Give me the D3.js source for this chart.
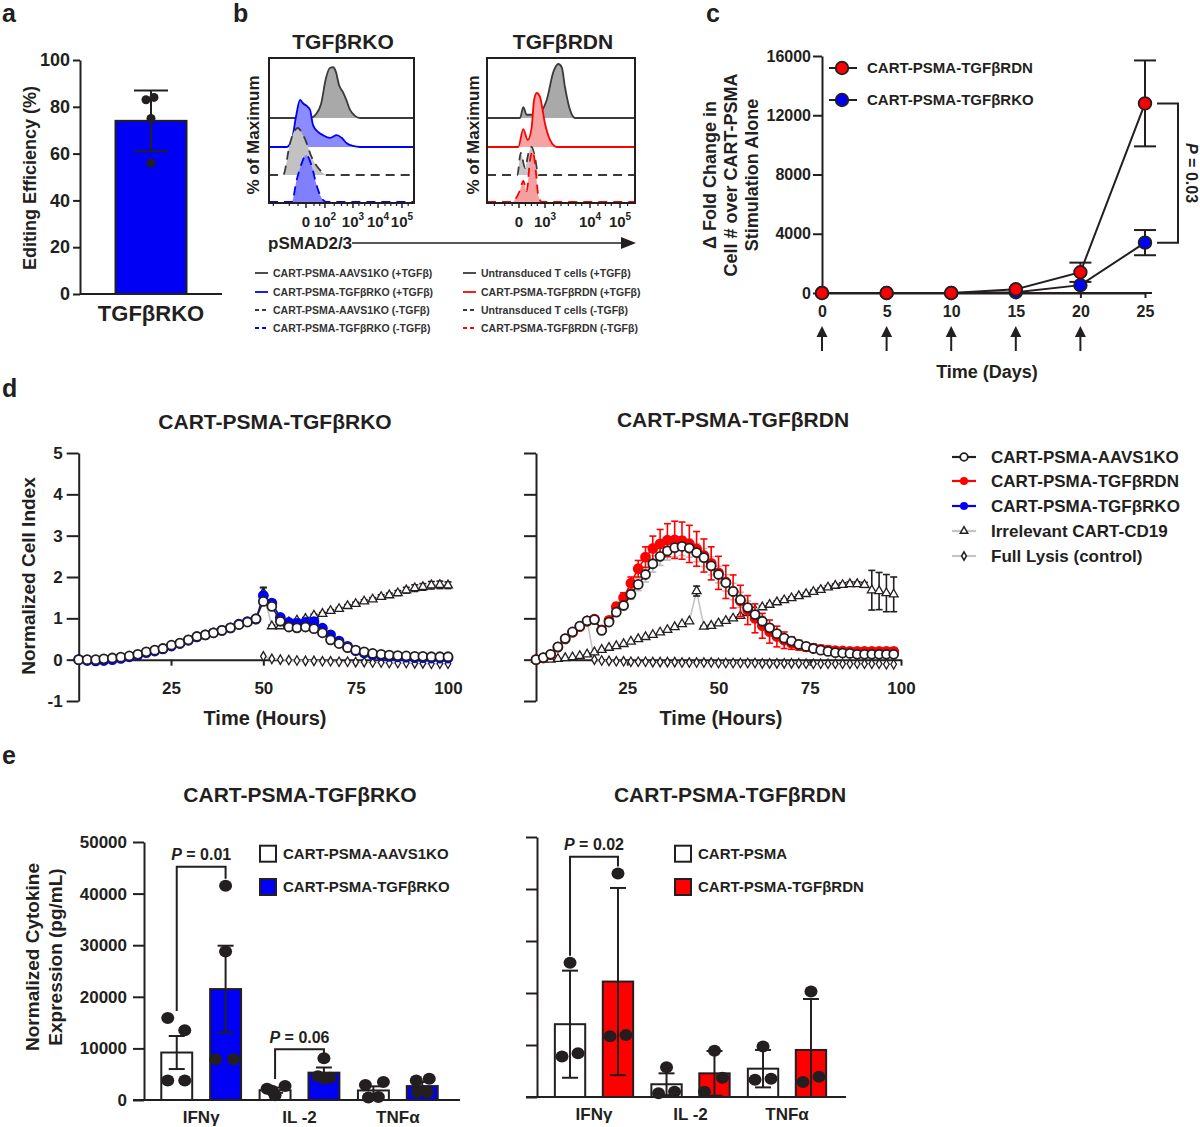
<!DOCTYPE html>
<html>
<head>
<meta charset="utf-8">
<script src="https://cdn.jsdelivr.net/npm/d3@7"></script>
<style>
  body { margin: 0; background: #fff; }
  svg { font-family: "Liberation Sans", Arial, Helvetica, sans-serif; }
  svg text { font-weight: bold; }
</style>
</head>
<body>
<svg id="fig" width="1200" height="1127"></svg>
<script>
// ---- panel a: editing efficiency
const editCats = ["TGFβRKO"];
const editMean = [74];
const editSD = [13];
const editPoints = [83, 84, 75, 56];
const editTicks = [0, 20, 40, 60, 80, 100];

// ---- panel b: histograms, [channel position 0-100, % of max]
const koAavsPlus = [[0,0],[28.3,0],[32.4,7],[35.9,26],[39.3,74],[42.1,93],[44.1,94],[46.2,85],[48.3,61],[51,48],[53.1,35],[55.9,15],[59.3,4],[62.8,0],[100,0]];
const koRkoPlus = [[0,0],[12.2,0],[15.9,15],[18.6,56],[21.4,87],[23.4,81],[26,76],[28.3,69],[30.3,41],[33.8,28],[37.2,22],[42.1,17],[46.7,22],[50.1,17],[53.6,7],[57.9,2],[62.8,0],[100,0]];
const koAavsMinus = [[0,0],[9.7,0],[14.5,59],[17.2,80],[20,87],[23.4,74],[24.8,67],[29.4,33],[35.2,9],[40,0],[100,0]];
const koRkoMinus = [[0,0],[15.7,0],[19.1,41],[22.6,72],[25.5,87],[29.4,67],[32.9,30],[37.2,4],[40,0],[100,0]];
const dnUntPlus = [[0,0],[22.3,0],[24.5,20],[26.8,6],[33.6,6],[40.3,33],[44.8,85],[48.2,100],[50.5,94],[52.7,57],[56.1,15],[59.5,0],[100,0]];
const dnRdnPlus = [[0,0],[21.1,0],[24.5,33],[27.5,13],[30.2,37],[31.8,87],[33.6,100],[35.8,93],[39.2,43],[42.6,13],[47.1,0],[100,0]];
const dnUntMinus = [[0,0],[20.5,0],[22.8,41],[25.7,13],[28,40],[30.2,52],[32.4,33],[34.7,0],[100,0]];
const dnRdnMinus = [[0,0],[16.7,0],[22.3,22],[24.5,39],[26.8,20],[29.1,78],[30.9,94],[33.1,54],[34.7,11],[37,0],[100,0]];
const koTickPos = [25.5, 38.6, 57.9, 75.2, 91.7];
const koTickExp = [null, 2, 3, 4, 5];
const dnTickPos = [21.6, 39.2, 69.6, 89.9];
const dnTickExp = [null, 3, 4, 5];
const koMinorTicks = [3, 14, 20, 31, 35, 45, 50, 54, 62, 66, 70, 80, 84, 88, 96];
const dnMinorTicks = [5, 12, 17, 26, 30, 34, 45, 50, 55, 60, 64, 75, 80, 84, 95];
const bLegendLeft = ["CART-PSMA-AAVS1KO (+TGFβ)", "CART-PSMA-TGFβRKO (+TGFβ)", "CART-PSMA-AAVS1KO (-TGFβ)", "CART-PSMA-TGFβRKO (-TGFβ)"];
const bLegendRight = ["Untransduced T cells (+TGFβ)", "CART-PSMA-TGFβRDN (+TGFβ)", "Untransduced T cells (-TGFβ)", "CART-PSMA-TGFβRDN (-TGFβ)"];

// ---- panel c: expansion
const days = [0, 5, 10, 15, 20, 25];
const stimDays = [0, 5, 10, 15, 20];
const rdnFold = [0, 0, 0, 250, 1400, 12800];
const rdnFoldErr = [0, 0, 0, 0, 650, 2900];
const rkoFold = [0, 0, 0, 50, 530, 3400];
const rkoFoldErr = [0, 0, 0, 0, 0, 850];
const foldTicks = [0, 4000, 8000, 12000, 16000];

// ---- panel d: impedance killing
const hoursL = [0,2.3,4.6,6.8,9.1,11.4,13.7,16,18.3,20.6,22.8,25.1,27.4,29.7,32,34.3,36.5,38.8,41.1,43.4,45.7,48,
  50,52.3,54.6,56.9,59.1,61.4,63.7,66,68.2,70.5,72.8,75,77.3,79.6,81.9,84.1,86.4,88.7,91,93.2,95.5,97.8,100];
const aavsL = [0,0,0,0.02,0.04,0.06,0.09,0.13,0.19,0.23,0.27,0.35,0.4,0.48,0.56,0.6,0.65,0.71,0.77,0.85,0.91,0.99,
  1.41,1.29,0.93,0.79,0.77,0.79,0.75,0.65,0.48,0.39,0.29,0.23,0.19,0.15,0.13,0.11,0.1,0.09,0.08,0.08,0.07,0.07,0.07];
const rkoL = [0,-0.02,-0.03,-0.02,0,0.03,0.07,0.11,0.17,0.21,0.26,0.33,0.39,0.47,0.55,0.6,0.65,0.71,0.77,0.86,0.92,0.98,
  1.55,1.37,1.02,0.9,0.88,0.9,0.92,0.76,0.6,0.45,0.32,0.22,0.16,0.12,0.1,0.08,0.07,0.06,0.05,0.05,0.04,0.04,0.04];
const rkoErrL = [0,0,0,0,0,0,0,0,0,0,0,0,0,0,0,0,0,0,0,0,0,0,
  0.2,0.03,0.03,0.03,0.03,0.03,0.03,0.03,0.03,0.03,0.02,0.02,0.02,0.02,0.02,0.02,0.02,0.02,0.02,0.02,0.02,0.02,0.02];
const hoursL2 = [50,52.3,54.6,56.9,59.1,61.4,63.7,66,68.2,70.5,72.8,75,77.3,79.6,81.9,84.1,86.4,88.7,91,93.2,95.5,97.8,100];
const cd19L = [1.62,0.81,0.81,0.91,0.95,0.99,1.07,1.11,1.18,1.23,1.3,1.35,1.41,1.46,1.52,1.56,1.61,1.68,1.73,1.76,1.8,1.81,1.8];
const cd19ErrL = [0.12,0.03,0.03,0.03,0.03,0.03,0.03,0.03,0.03,0.03,0.03,0.04,0.04,0.04,0.05,0.05,0.06,0.07,0.08,0.08,0.09,0.09,0.08];
const lysisL = [0.08,0.02,0,-0.01,-0.02,-0.03,-0.03,-0.04,-0.04,-0.05,-0.05,-0.06,-0.06,-0.07,-0.07,-0.08,-0.08,-0.08,-0.09,-0.09,-0.1,-0.1,-0.1];

const hoursR = [0,2,4,6,8,10,12,14,16,18,20,22,24,26,28,30,32,34,36,38,40,42,44,46,48,
  50,52,54,56,58,60,62,64,66,68,70,72,74,76,78,80,82,84,86,88,90,92,94,96,98];
const aavsR = [0,0.05,0.13,0.31,0.51,0.67,0.81,0.94,0.97,0.71,0.91,1.15,1.31,1.58,1.82,2.06,2.32,2.5,2.63,2.71,2.74,2.7,2.59,2.47,2.27,
  2.06,1.86,1.65,1.45,1.26,1.09,0.93,0.77,0.63,0.52,0.45,0.37,0.32,0.27,0.23,0.2,0.17,0.16,0.15,0.13,0.13,0.13,0.13,0.13,0.13];
const aavsErrR = [0,0,0,0,0,0,0,0,0,0,0.05,0.08,0.1,0.12,0.15,0.18,0.2,0.22,0.22,0.22,0.22,0.22,0.22,0.22,0.22,
  0.2,0.2,0.2,0.18,0.16,0.14,0.12,0.1,0.08,0.06,0.05,0.04,0.04,0.03,0.03,0.03,0.03,0.03,0.03,0.03,0.03,0.03,0.03,0.03,0.03];
const rdnR = [0,0.04,0.12,0.3,0.5,0.66,0.8,0.93,0.98,0.72,0.95,1.28,1.5,1.85,2.2,2.48,2.69,2.8,2.89,2.9,2.88,2.8,2.68,2.52,2.33,
  2.1,1.88,1.65,1.42,1.2,1.0,0.82,0.68,0.56,0.47,0.4,0.35,0.31,0.28,0.25,0.23,0.22,0.21,0.2,0.2,0.2,0.2,0.2,0.2,0.2];
const rdnErrR = [0,0,0,0.02,0.03,0.03,0.03,0.03,0.03,0.03,0.08,0.1,0.12,0.15,0.2,0.25,0.3,0.35,0.4,0.45,0.45,0.45,0.42,0.4,0.4,
  0.4,0.4,0.4,0.38,0.35,0.35,0.3,0.28,0.25,0.2,0.15,0.12,0.1,0.1,0.1,0.1,0.08,0.08,0.08,0.08,0.08,0.08,0.08,0.08,0.08];
const cd19R = [0,0,0,0.02,0.04,0.06,0.09,0.13,0.18,0.24,0.29,0.33,0.38,0.44,0.5,0.55,0.6,0.66,0.72,0.79,0.86,0.93,1.66,0.8,0.82,
  0.88,0.94,1.0,1.06,1.13,1.2,1.27,1.33,1.39,1.44,1.49,1.54,1.59,1.64,1.69,1.75,1.79,1.81,1.83,1.83,1.81,1.68,1.66,1.61,1.58];
const cd19ErrR = [0,0,0,0,0,0,0,0,0,0,0,0,0,0,0,0,0,0,0,0,0,0,0.12,0.02,0.02,
  0.02,0.02,0.02,0.02,0.02,0.03,0.03,0.03,0.03,0.03,0.03,0.03,0.03,0.04,0.04,0.04,0.04,0.05,0.05,0.05,0.06,0.48,0.45,0.45,0.42];
const hoursR2 = [14,16,18,20,22,24,26,28,30,32,34,36,38,40,42,44,46,48,50,52,54,56,58,60,62,64,66,68,70,72,74,76,78,80,82,84,86,88,90,92,94,96,98];
const lysisR = [0.94,0,-0.02,-0.03,-0.04,-0.04,-0.05,-0.05,-0.05,-0.06,-0.06,-0.06,-0.06,-0.07,-0.07,-0.07,-0.07,-0.07,-0.08,-0.08,-0.08,
  -0.08,-0.08,-0.08,-0.09,-0.09,-0.09,-0.09,-0.09,-0.09,-0.1,-0.1,-0.1,-0.1,-0.1,-0.1,-0.1,-0.1,-0.1,-0.1,-0.1,-0.11,-0.11];
const cellIndexTicks = [-1, 0, 1, 2, 3, 4, 5];
const hourTicks = [25, 50, 75, 100];
const dLegend = ["CART-PSMA-AAVS1KO", "CART-PSMA-TGFβRDN", "CART-PSMA-TGFβRKO", "Irrelevant CART-CD19", "Full Lysis (control)"];

// ---- panel e: cytokines
const cytoCats = ["IFNγ", "IL -2", "TNFα"];
const cytoTicks = [0, 10000, 20000, 30000, 40000, 50000];
const koCtrlMean = [9200, 1900, 1850];
const koCtrlErr = [3200, 500, 800];
const koCtrlPts = [[15900, 13500, 3800, 3800], [2200, 900, 2700, 1800], [2900, 3500, 500, 600]];
const koTrtMean = [21500, 5300, 2700];
const koTrtErr = [8400, 1000, 800];
const koTrtPts = [[41500, 28800, 7900, 7900], [8100, 4600, 4300, 4200], [3800, 4100, 1500, 1500]];
const dnCtrlMean = [14000, 2450, 5450];
const dnCtrlErr = [10300, 2100, 3600];
const dnCtrlPts = [[25800, 7800, 8400], [5700, 700, 1000], [9700, 3300, 3500]];
const dnTrtMean = [22200, 4550, 9050];
const dnTrtErr = [18000, 4300, 9800];
const dnTrtPts = [[43000, 11700, 11900], [8900, 3700, 1000], [20300, 2900, 3900]];
const koBrackets = [{ cat: "IFNγ", level: 45200, p: "0.01" }, { cat: "IL -2", level: 9830, p: "0.06" }];
const dnBrackets = [{ cat: "IFNγ", level: 46200, p: "0.02" }];

// ------------------------------------------------------------------
const svg = d3.select("#fig");
const INK = "#231f20";
const BLUE = "#0000f5", RED = "#ff0000", LIGHT = "#c4c4c4";
const plain = d => String(d);   // hyphen minus, no thousands separator

function label(x, y, s, size, o = {}) {
  const t = svg.append("text")
    .attr("x", x).attr("y", y)
    .attr("font-size", size)
    .attr("text-anchor", o.anchor || "middle")
    .attr("dy", o.dy || "0.35em")
    .attr("fill", o.fill || INK)
    .text(s);
  if (o.rotate) t.attr("transform", `rotate(${o.rotate},${x},${y})`);
  return t;
}

function pLabel(x, y, val, size, rotate) {
  const t = svg.append("text").attr("x", x).attr("y", y).attr("font-size", size)
    .attr("text-anchor", "middle").attr("dy", "0.35em").attr("fill", INK);
  t.append("tspan").attr("font-style", "italic").text("P");
  t.append("tspan").text(" = " + val);
  if (rotate) t.attr("transform", `rotate(${rotate},${x},${y})`);
}

function line(g, x1, y1, x2, y2, color, w) {
  return g.append("line").attr("x1", x1).attr("y1", y1).attr("x2", x2).attr("y2", y2)
    .attr("stroke", color || INK).attr("stroke-width", w || 2);
}

function styleAxis(g, size) {
  g.attr("font-family", null).attr("font-size", size);
  g.select(".domain").attr("stroke", INK).attr("stroke-width", 2);
  g.selectAll(".tick line").attr("stroke", INK).attr("stroke-width", 2);
  g.selectAll(".tick text").attr("fill", INK);
}

// panel letters
[["a", 2, 22], ["b", 233, 22], ["c", 706, 22], ["d", 2, 397], ["e", 2, 764]].forEach(([s, x, y]) =>
  label(x, y, s, 25, { anchor: "start", dy: "0" }));

// ================= panel a =================
{
  const xA = d3.scaleBand().domain(editCats).range([80, 222]).paddingInner(0.5).paddingOuter(0.25);
  const yA = d3.scaleLinear().domain([0, 100]).range([294, 60]);
  const g = svg.append("g");
  const cx = xA(editCats[0]) + xA.bandwidth() / 2;
  g.append("rect").attr("x", xA(editCats[0])).attr("y", yA(editMean[0]))
    .attr("width", xA.bandwidth()).attr("height", yA(0) - yA(editMean[0]))
    .attr("fill", BLUE).attr("stroke", INK).attr("stroke-width", 2);
  line(g, cx, yA(editMean[0] - editSD[0]), cx, yA(editMean[0] + editSD[0]));
  [editMean[0] - editSD[0], editMean[0] + editSD[0]].forEach(v => line(g, cx - 17, yA(v), cx + 17, yA(v)));
  const jitter = [-5, 3, 0, 0];
  g.selectAll(".pt").data(editPoints).join("circle")
    .attr("cx", (d, i) => cx + jitter[i]).attr("cy", d => yA(d)).attr("r", 4.5).attr("fill", INK);
  const ax = g.append("g").attr("transform", "translate(80,0)")
    .call(d3.axisLeft(yA).tickValues(editTicks).tickSize(7).tickPadding(3).tickSizeOuter(0));
  styleAxis(ax, 18);
  line(g, 80, 294, 222, 294);
  label(151, 313, "TGFβRKO", 22);
  label(30, 178, "Editing Efficiency (%)", 18, { rotate: -90 });
}

// ================= panel b =================
{
  const boxTop = 58, boxBottom = 203;
  const rowBase = [118, 147, 175, 202];
  const hh = d3.scaleLinear().domain([0, 100]).range([0, 54]);
  const panels = [
    { x0: 269, x1: 414, title: "TGFβRKO", tx: 343, ylx: 253, ticks: koTickPos, exps: koTickExp, minor: koMinorTicks,
      traces: [
        { pts: koAavsPlus, row: 0, stroke: "#3a3a3a", fill: "#a9a9a9", dash: null },
        { pts: koRkoPlus, row: 1, stroke: "#0000ff", fill: "#8c8cff", dash: null },
        { pts: koAavsMinus, row: 2, stroke: "#3a3a3a", fill: "#c2c2c2", dash: "9,6" },
        { pts: koRkoMinus, row: 3, stroke: "#0000ff", fill: "#8080ff", dash: "9,6" }] },
    { x0: 487, x1: 635, title: "TGFβRDN", tx: 563, ylx: 473, ticks: dnTickPos, exps: dnTickExp, minor: dnMinorTicks,
      traces: [
        { pts: dnUntPlus, row: 0, stroke: "#3a3a3a", fill: "#a9a9a9", dash: null },
        { pts: dnRdnPlus, row: 1, stroke: "#ff0000", fill: "#f7a3a3", dash: null },
        { pts: dnUntMinus, row: 2, stroke: "#3a3a3a", fill: "#c6c6c6", dash: "9,6" },
        { pts: dnRdnMinus, row: 3, stroke: "#ff0000", fill: "#f5a0a0", dash: "9,6" }] }
  ];
  panels.forEach(p => {
    const xh = d3.scaleLinear().domain([0, 100]).range([p.x0, p.x1]);
    const g = svg.append("g");
    p.traces.forEach(t => {
      const base = rowBase[t.row];
      g.append("path").datum(t.pts)
        .attr("d", d3.area().x(d => xh(d[0])).y0(base).y1(d => base - hh(d[1])).curve(d3.curveMonotoneX))
        .attr("fill", t.fill);
      g.append("path").datum(t.pts)
        .attr("d", d3.line().x(d => xh(d[0])).y(d => base - hh(d[1])).curve(d3.curveMonotoneX))
        .attr("fill", "none").attr("stroke", t.stroke).attr("stroke-width", 1.8)
        .attr("stroke-dasharray", t.dash);
    });
    g.append("rect").attr("x", p.x0).attr("y", boxTop).attr("width", p.x1 - p.x0).attr("height", boxBottom - boxTop)
      .attr("fill", "none").attr("stroke", INK).attr("stroke-width", 2);
    p.minor.forEach(u => line(g, xh(u), boxBottom, xh(u), boxBottom + 3, INK, 1.2));
    p.ticks.forEach((u, i) => {
      line(g, xh(u), boxBottom, xh(u), boxBottom + 5, INK, 1.5);
      const t = svg.append("text").attr("x", xh(u)).attr("y", 222).attr("dy", "0.35em")
        .attr("font-size", 15).attr("text-anchor", "middle").attr("fill", INK);
      if (p.exps[i] === null) t.text("0");
      else {
        t.append("tspan").text("10");
        t.append("tspan").attr("font-size", 10).attr("dy", "-0.7em").text(p.exps[i]);
      }
    });
    label(p.tx, 42, p.title, 21);
    label(p.ylx, 135, "% of Maximum", 17, { rotate: -90 });
  });
  // channel label with arrow
  label(268, 243, "pSMAD2/3", 17, { anchor: "start" });
  line(svg, 352, 243, 624, 243, INK, 1.6);
  svg.append("path").attr("d", "M621,237 L636,243 L621,249 Z").attr("fill", INK);
  // legend
  const rows = [273, 292, 310, 328];
  const legStyles = [
    [{ c: "#3a3a3a", d: null }, { c: "#0000ff", d: null }, { c: "#3a3a3a", d: "4,3" }, { c: "#0000ff", d: "4,3" }],
    [{ c: "#3a3a3a", d: null }, { c: "#ff0000", d: null }, { c: "#3a3a3a", d: "4,3" }, { c: "#ff0000", d: "4,3" }]];
  [[bLegendLeft, 255, 273], [bLegendRight, 463, 481]].forEach(([labels, lx, tx], col) => {
    labels.forEach((s, i) => {
      line(svg, lx, rows[i], lx + 13, rows[i], legStyles[col][i].c, 1.8).attr("stroke-dasharray", legStyles[col][i].d);
      label(tx, rows[i], s, 10.5, { anchor: "start", fill: "#333" });
    });
  });
}

// ================= panel c =================
{
  const xC = d3.scaleLinear().domain([0, 25]).range([822, 1145]);
  const yC = d3.scaleLinear().domain([0, 16000]).range([293, 56]);
  const g = svg.append("g");
  const ay = g.append("g").attr("transform", "translate(822,0)")
    .call(d3.axisLeft(yC).tickValues(foldTicks).tickSize(9).tickPadding(2).tickSizeOuter(0).tickFormat(plain));
  styleAxis(ay, 16);
  const ax = g.append("g").attr("transform", "translate(0,293)")
    .call(d3.axisBottom(xC).tickValues(days).tickSize(5).tickPadding(8).tickSizeOuter(0));
  styleAxis(ax, 16);
  line(g, 822, 293, 1152, 293);

  const seriesC = [
    { v: rkoFold, e: rkoFoldErr, fill: BLUE },
    { v: rdnFold, e: rdnFoldErr, fill: RED }];
  seriesC.forEach(s => {
    const pts = d3.zip(days, s.v, s.e);
    g.append("path").datum(pts).attr("d", d3.line().x(d => xC(d[0])).y(d => yC(d[1])))
      .attr("fill", "none").attr("stroke", INK).attr("stroke-width", 2);
    pts.filter(d => d[2] > 0).forEach(d => {
      const x = xC(d[0]);
      line(g, x, yC(d[1] - d[2]), x, yC(d[1] + d[2]));
      [d[1] - d[2], d[1] + d[2]].forEach(v => line(g, x - 11, yC(v), x + 11, yC(v)));
    });
  });
  seriesC.forEach(s => {
    g.selectAll(null).data(d3.zip(days, s.v)).join("circle")
      .attr("cx", d => xC(d[0])).attr("cy", d => yC(d[1])).attr("r", 6.3)
      .attr("fill", s.fill).attr("stroke", INK).attr("stroke-width", 1.8);
  });
  // significance bracket
  const yHi = yC(rdnFold[5]), yLo = yC(rkoFold[5]);
  g.append("path").attr("d", `M${xC(25) + 12},${yHi} H1178 V${yLo} H${xC(25) + 12}`)
    .attr("fill", "none").attr("stroke", INK).attr("stroke-width", 2);
  pLabel(1192, (yHi + yLo) / 2, "0.03", 16, 90);
  // stimulation arrows
  stimDays.forEach(d => {
    const x = xC(d);
    line(g, x, 351, x, 334);
    g.append("path").attr("d", `M${x - 5.5},337 L${x},326 L${x + 5.5},337 Z`).attr("fill", INK);
  });
  label(987, 372, "Time (Days)", 18);
  label(710, 175, "Δ Fold Change in", 18, { rotate: -90 });
  label(731, 175, "Cell # over CART-PSMA", 18, { rotate: -90 });
  label(752, 175, "Stimulation Alone", 18, { rotate: -90 });
  // legend
  [[68, RED, "CART-PSMA-TGFβRDN"], [100, BLUE, "CART-PSMA-TGFβRKO"]].forEach(([y, c, s]) => {
    line(g, 829, y, 857, y);
    g.append("circle").attr("cx", 842).attr("cy", y).attr("r", 6.3).attr("fill", c).attr("stroke", INK).attr("stroke-width", 1.8);
    label(867, y, s, 15, { anchor: "start" });
  });
}

// ================= panel d =================
const tri = d3.symbol(d3.symbolTriangle, 34);
const dia = d3.symbol(d3.symbolDiamond, 26);

function kinPath(g, x, y, t, v, color) {
  g.append("path").datum(d3.zip(t, v)).attr("d", d3.line().x(d => x(d[0])).y(d => y(d[1])))
    .attr("fill", "none").attr("stroke", color).attr("stroke-width", 1.6);
}
function kinErr(g, x, y, t, v, e, color) {
  d3.zip(t, v, e).filter(d => d[2] > 0).forEach(d => {
    const cx = x(d[0]);
    line(g, cx, y(d[1] - d[2]), cx, y(d[1] + d[2]), color, 1.6);
    [d[1] - d[2], d[1] + d[2]].forEach(val => line(g, cx - 3.5, y(val), cx + 3.5, y(val), color, 1.6));
  });
}
function kinMarks(g, x, y, t, v, kind, fill) {
  const pts = d3.zip(t, v);
  if (kind === "circle") {
    g.selectAll(null).data(pts).join("circle").attr("cx", d => x(d[0])).attr("cy", d => y(d[1])).attr("r", 4.5)
      .attr("fill", fill).attr("stroke", fill === "#fff" ? INK : fill).attr("stroke-width", 1.8);
  } else {
    g.selectAll(null).data(pts).join("path").attr("d", kind === "tri" ? tri : dia)
      .attr("transform", d => `translate(${x(d[0])},${y(d[1])})`)
      .attr("fill", "#fff").attr("stroke", INK).attr("stroke-width", 1.3);
  }
}
function kinAxes(g, x, y, showLabels) {
  const ay = g.append("g").attr("transform", `translate(${x(0)},0)`)
    .call(d3.axisLeft(y).tickValues(cellIndexTicks).tickSize(12).tickPadding(4).tickSizeOuter(0)
      .tickFormat(showLabels ? plain : ""));
  styleAxis(ay, 17);
  const ax = g.append("g").attr("transform", `translate(0,${y(0)})`)
    .call(d3.axisBottom(x).tickValues(hourTicks).tickSize(6).tickPadding(16).tickSizeOuter(0));
  styleAxis(ax, 17);
}
{
  const yD = d3.scaleLinear().domain([-1, 5]).range([701, 453]);
  // left: TGFβRKO
  const xL = d3.scaleLinear().domain([0, 100]).range([78.7, 448]);
  const gL = svg.append("g");
  kinAxes(gL, xL, yD, true);
  kinPath(gL, xL, yD, hoursL2, lysisL, LIGHT);
  kinMarks(gL, xL, yD, hoursL2, lysisL, "dia");
  kinPath(gL, xL, yD, hoursL2, cd19L, LIGHT);
  kinErr(gL, xL, yD, hoursL2, cd19L, cd19ErrL, INK);
  kinMarks(gL, xL, yD, hoursL2, cd19L, "tri");
  kinErr(gL, xL, yD, hoursL, rkoL, rkoErrL, INK);
  kinPath(gL, xL, yD, hoursL, rkoL, BLUE);
  kinMarks(gL, xL, yD, hoursL, rkoL, "circle", BLUE);
  kinPath(gL, xL, yD, hoursL, aavsL, INK);
  kinMarks(gL, xL, yD, hoursL, aavsL, "circle", "#fff");
  label(275, 422, "CART-PSMA-TGFβRKO", 21);
  label(265, 718, "Time (Hours)", 20);
  label(28, 576, "Normalized Cell Index", 19, { rotate: -90 });

  // right: TGFβRDN
  const xR = d3.scaleLinear().domain([0, 100]).range([536, 901]);
  const gR = svg.append("g");
  kinAxes(gR, xR, yD, false);
  kinPath(gR, xR, yD, hoursR2, lysisR, LIGHT);
  kinMarks(gR, xR, yD, hoursR2, lysisR, "dia");
  kinPath(gR, xR, yD, hoursR, cd19R, LIGHT);
  kinErr(gR, xR, yD, hoursR, cd19R, cd19ErrR, INK);
  kinMarks(gR, xR, yD, hoursR, cd19R, "tri");
  kinErr(gR, xR, yD, hoursR, aavsR, aavsErrR, "#bdbdbd");
  kinErr(gR, xR, yD, hoursR, rdnR, rdnErrR, RED);
  kinPath(gR, xR, yD, hoursR, rdnR, RED);
  kinMarks(gR, xR, yD, hoursR, rdnR, "circle", RED);
  kinPath(gR, xR, yD, hoursR, aavsR, INK);
  kinMarks(gR, xR, yD, hoursR, aavsR, "circle", "#fff");
  label(733, 420, "CART-PSMA-TGFβRDN", 21);
  label(721, 718, "Time (Hours)", 20);

  // legend
  const legY = [457, 481, 506, 531, 556];
  const legLine = [INK, RED, BLUE, LIGHT, LIGHT];
  const gLeg = svg.append("g");
  dLegend.forEach((s, i) => {
    line(gLeg, 952, legY[i], 976, legY[i], legLine[i], 2.2);
    if (i === 0) gLeg.append("circle").attr("cx", 964).attr("cy", legY[i]).attr("r", 3.8).attr("fill", "#fff").attr("stroke", INK).attr("stroke-width", 1.8);
    if (i === 1 || i === 2) gLeg.append("circle").attr("cx", 964).attr("cy", legY[i]).attr("r", 4).attr("fill", legLine[i]);
    if (i >= 3) gLeg.append("path").attr("d", i === 3 ? d3.symbol(d3.symbolTriangle, 24) : d3.symbol(d3.symbolDiamond, 20))
      .attr("transform", `translate(964,${legY[i]})`).attr("fill", "#fff").attr("stroke", INK).attr("stroke-width", 1.5);
    label(991, legY[i], s, 17, { anchor: "start" });
  });
}

// ================= panel e =================
function drawCyto(o) {
  const x0 = d3.scaleBand().domain(cytoCats).range(o.xr);
  const x1 = d3.scaleBand().domain(["ctrl", "trt"]).range([0, x0.bandwidth()]).paddingInner(0.367).paddingOuter(0.19);
  const y = d3.scaleLinear().domain([0, 50000]).range(o.yr);
  const g = svg.append("g");
  const groups = [
    { key: "ctrl", mean: o.ctrlMean, err: o.ctrlErr, pts: o.ctrlPts, fill: "#fff" },
    { key: "trt", mean: o.trtMean, err: o.trtErr, pts: o.trtPts, fill: o.color }];
  const center = (c, k) => x0(c) + x1(k) + x1.bandwidth() / 2;
  groups.forEach((grp, gi) => {
    cytoCats.forEach((c, ci) => {
      const cx = center(c, grp.key);
      const m = grp.mean[ci], e = grp.err[ci];
      g.append("rect").attr("x", x0(c) + x1(grp.key)).attr("y", y(m)).attr("width", x1.bandwidth())
        .attr("height", y(0) - y(m)).attr("fill", grp.fill).attr("stroke", INK).attr("stroke-width", 2);
      const lo = Math.max(0, m - e);
      line(g, cx, y(lo), cx, y(m + e));
      line(g, cx - 8, y(m + e), cx + 8, y(m + e));
      if (lo > 0) line(g, cx - 8, y(lo), cx + 8, y(lo));
    });
  });
  groups.forEach((grp, gi) => {
    cytoCats.forEach((c, ci) => {
      const cx = center(c, grp.key);
      g.selectAll(null).data(grp.pts[ci]).join("ellipse")
        .attr("cx", (d, i) => cx + o.jitter[gi][ci][i]).attr("cy", d => y(d))
        .attr("rx", 6.5).attr("ry", 6).attr("fill", INK);
    });
  });
  const ay = g.append("g").attr("transform", `translate(${o.axisX},0)`)
    .call(d3.axisLeft(y).tickValues(cytoTicks).tickSize(11).tickPadding(6).tickSizeOuter(0)
      .tickFormat(o.tickLabels ? plain : ""));
  styleAxis(ay, 17);
  const ax = g.append("g").attr("transform", `translate(0,${y(0)})`)
    .call(d3.axisBottom(x0).tickSize(0).tickPadding(11));
  styleAxis(ax, 17);
  ax.select(".domain").remove();
  line(g, o.axisX - 11, y(0), o.xEnd, y(0));
  // brackets
  o.brackets.forEach(b => {
    const ci = cytoCats.indexOf(b.cat);
    const xa = center(b.cat, "ctrl"), xb = center(b.cat, "trt");
    const yl = y(b.level);
    const topA = y(d3.max(o.ctrlPts[ci])) - 7, topB = y(d3.max(o.trtPts[ci])) - 7;
    g.append("path").attr("d", `M${xa},${topA} V${yl} H${xb} V${Math.max(yl + 7, topB)}`)
      .attr("fill", "none").attr("stroke", INK).attr("stroke-width", 2);
    pLabel((xa + xb) / 2, yl - 12, b.p, 16);
  });
  // legend
  [[845.7, "#fff", o.legend[0]], [879, o.color, o.legend[1]]].forEach(([ty, f, s]) => {
    g.append("rect").attr("x", o.legX).attr("y", ty).attr("width", 16).attr("height", 16)
      .attr("fill", f).attr("stroke", INK).attr("stroke-width", 2);
    label(o.legX + 23, ty + 8, s, 15, { anchor: "start" });
  });
  label(o.titleX, 795, o.title, 21);
}

drawCyto({
  xr: [152, 447], yr: [1100, 842], axisX: 144, xEnd: 460, tickLabels: true, color: BLUE,
  ctrlMean: koCtrlMean, ctrlErr: koCtrlErr, ctrlPts: koCtrlPts,
  trtMean: koTrtMean, trtErr: koTrtErr, trtPts: koTrtPts,
  jitter: [[[-9, 8, -9, 8], [-8, 0, 10, -3], [-8, 10, -5, 5]], [[0, 0, -10, 8], [0, -6, 6, 0], [-6, 7, -5, 5]]],
  brackets: koBrackets, legX: 260, legend: ["CART-PSMA-AAVS1KO", "CART-PSMA-TGFβRKO"],
  title: "CART-PSMA-TGFβRKO", titleX: 300
});
drawCyto({
  xr: [545.75, 835.25], yr: [1097, 837], axisX: 537, xEnd: 846, tickLabels: false, color: RED,
  ctrlMean: dnCtrlMean, ctrlErr: dnCtrlErr, ctrlPts: dnCtrlPts,
  trtMean: dnTrtMean, trtErr: dnTrtErr, trtPts: dnTrtPts,
  jitter: [[[0, -8, 8], [0, -8, 8], [0, -8, 8]], [[0, -8, 8], [0, 8, -10], [0, -8, 8]]],
  brackets: dnBrackets, legX: 675, legend: ["CART-PSMA", "CART-PSMA-TGFβRDN"],
  title: "CART-PSMA-TGFβRDN", titleX: 730
});
label(32, 957, "Normalized Cytokine", 19, { rotate: -90 });
label(55, 957, "Expression (pg/mL)", 19, { rotate: -90 });
</script>
</body>
</html>
